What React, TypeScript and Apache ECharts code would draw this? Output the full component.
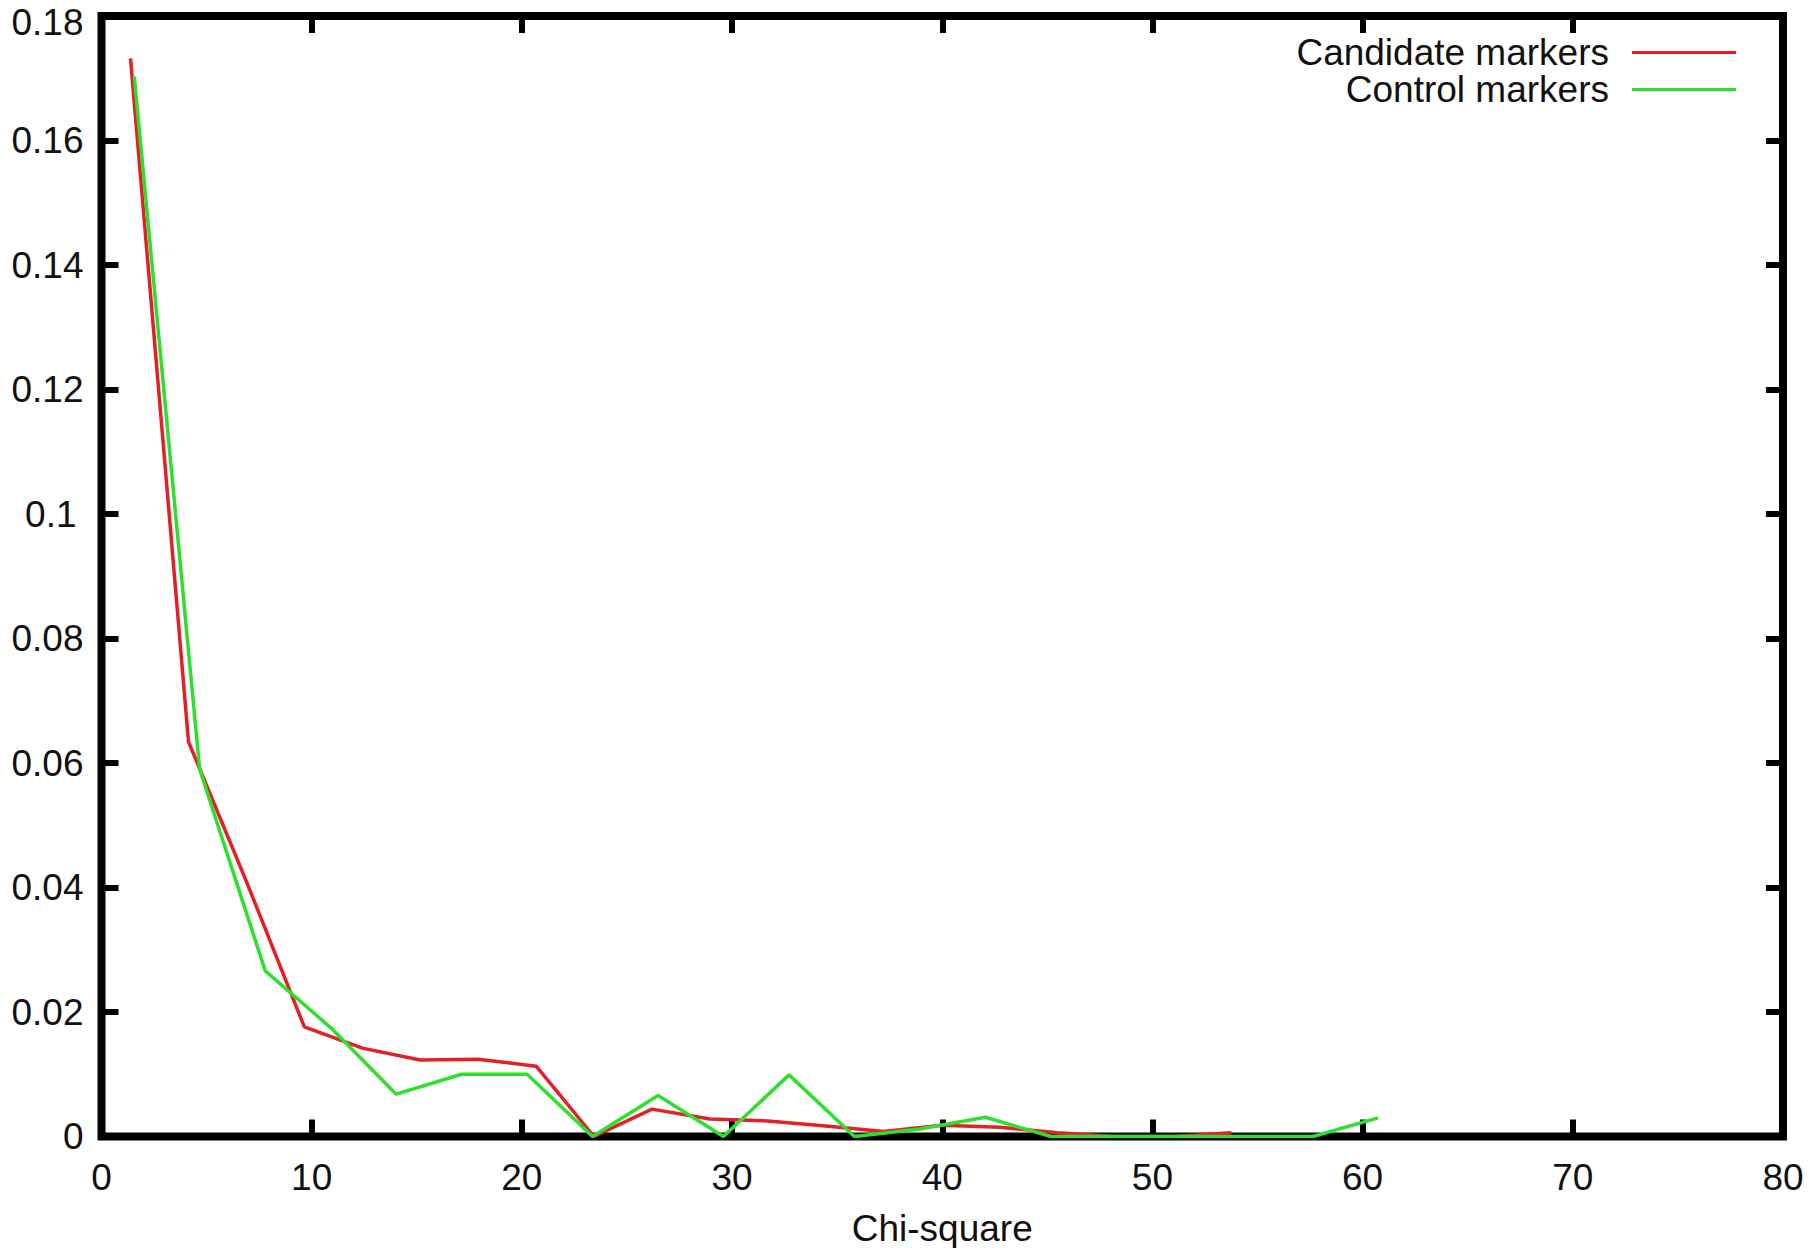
import React, { useEffect, useRef } from "react";
import * as echarts from "echarts";

const seriesNames = ["Candidate markers", "Control markers"];
const candidateX = [1.38, 4.14, 6.89, 9.65, 12.41, 15.16, 17.92, 20.68, 23.43, 26.19, 28.95, 31.7, 34.46, 37.22, 39.98, 42.73, 45.49, 48.25, 51.0, 53.76];
const candidateY = [0.1732, 0.0634, 0.041, 0.0176, 0.0142, 0.0123, 0.0124, 0.0113, 0, 0.0044, 0.0028, 0.0025, 0.0017, 0.0008, 0.0018, 0.0015, 0.0006, 0, 0, 0.0006];
const controlX = [1.56, 4.67, 7.79, 10.9, 14.02, 17.13, 20.25, 23.36, 26.48, 29.59, 32.71, 35.82, 38.94, 42.05, 45.17, 48.28, 51.4, 54.51, 57.63, 60.74];
const controlY = [0.1703, 0.059, 0.0266, 0.0175, 0.0068, 0.01, 0.01, 0, 0.0066, 0, 0.0099, 0, 0.0012, 0.0031, 0, 0, 0, 0, 0, 0.003];
const xRange = [0, 80, 10];
const yRange = [0, 0.18, 0.02];
const xAxisTitle = "Chi-square";
const seriesColors = ["#e41f26", "#2ee02e"];

const FONT = "Liberation Sans, Arial, Helvetica, sans-serif";
const FS = 37;

export default function App() {
  const ref = useRef<HTMLDivElement>(null);
  useEffect(() => {
    if (!ref.current) return;
    const chart = echarts.init(ref.current, null, { renderer: "svg" });
    const pair = (xs: number[], ys: number[]) => xs.map((x, i) => [x, ys[i]]);
    const tick = () => ({ show: true, inside: true, length: 17, lineStyle: { color: "#000", width: 6 } });
    const noLine = () => ({ show: false, onZero: false });
    const labelText = { fontFamily: FONT, fontSize: FS, color: "#111" };
    const yFormatter = (v: number) => {
      const s = parseFloat(v.toFixed(4)).toString();
      if (Math.abs(v - yRange[1]) < 1e-9) return "{top|" + s + "}";
      if (s === "0.1") return "{short|" + s + "}";
      return s;
    };
    chart.setOption({
      animation: false,
      backgroundColor: "#fff",
      grid: {
        left: 101.5,
        right: 26,
        top: 16,
        bottom: 111.5,
        show: true,
        borderWidth: 8,
        borderColor: "#000",
        backgroundColor: "transparent",
        z: 3,
        containLabel: false,
        outerBoundsMode: "none",
      },
      legend: {
        data: seriesNames,
        orient: "vertical",
        align: "right",
        right: 73,
        top: 34,
        padding: 0,
        itemGap: 0,
        itemWidth: 104,
        itemHeight: 3,
        icon: "rect",
        textStyle: { ...labelText, lineHeight: 37, padding: [0, 18, 0, 0] },
      },
      xAxis: [
        {
          type: "value",
          min: xRange[0],
          max: xRange[1],
          interval: xRange[2],
          position: "bottom",
          name: xAxisTitle,
          nameLocation: "middle",
          nameGap: 76,
          nameTextStyle: { ...labelText, lineHeight: 32 },
          axisLine: noLine(),
          axisTick: tick(),
          splitLine: { show: false },
          axisLabel: { ...labelText, margin: 22 },
        },
        {
          type: "value",
          min: xRange[0],
          max: xRange[1],
          interval: xRange[2],
          position: "top",
          axisLine: noLine(),
          axisTick: tick(),
          splitLine: { show: false },
          axisLabel: { show: false },
        },
      ],
      yAxis: [
        {
          type: "value",
          min: yRange[0],
          max: yRange[1],
          interval: yRange[2],
          position: "left",
          axisLine: noLine(),
          axisTick: tick(),
          splitLine: { show: false },
          axisLabel: {
            ...labelText,
            margin: 18,
            lineHeight: 30,
            formatter: yFormatter,
            rich: {
              top: { ...labelText, lineHeight: 30, padding: [12, 0, 0, 0] },
              short: { ...labelText, lineHeight: 30, padding: [0, 7, 0, 0] },
            },
          },
        },
        {
          type: "value",
          min: yRange[0],
          max: yRange[1],
          interval: yRange[2],
          position: "right",
          axisLine: noLine(),
          axisTick: tick(),
          splitLine: { show: false },
          axisLabel: { show: false },
        },
      ],
      series: [
        {
          name: seriesNames[0],
          type: "line",
          xAxisIndex: 0,
          yAxisIndex: 0,
          data: pair(candidateX, candidateY),
          symbol: "none",
          lineStyle: { color: seriesColors[0], width: 3.5 },
          itemStyle: { color: seriesColors[0] },
        },
        {
          name: seriesNames[1],
          type: "line",
          xAxisIndex: 0,
          yAxisIndex: 0,
          data: pair(controlX, controlY),
          symbol: "none",
          lineStyle: { color: seriesColors[1], width: 3.5 },
          itemStyle: { color: seriesColors[1] },
        },
      ],
    });
    return () => chart.dispose();
  }, []);
  return (
    <div
      ref={ref}
      style={{ position: "fixed", left: 0, top: 0, width: 1809, height: 1248, background: "#fff" }}
    />
  );
}
